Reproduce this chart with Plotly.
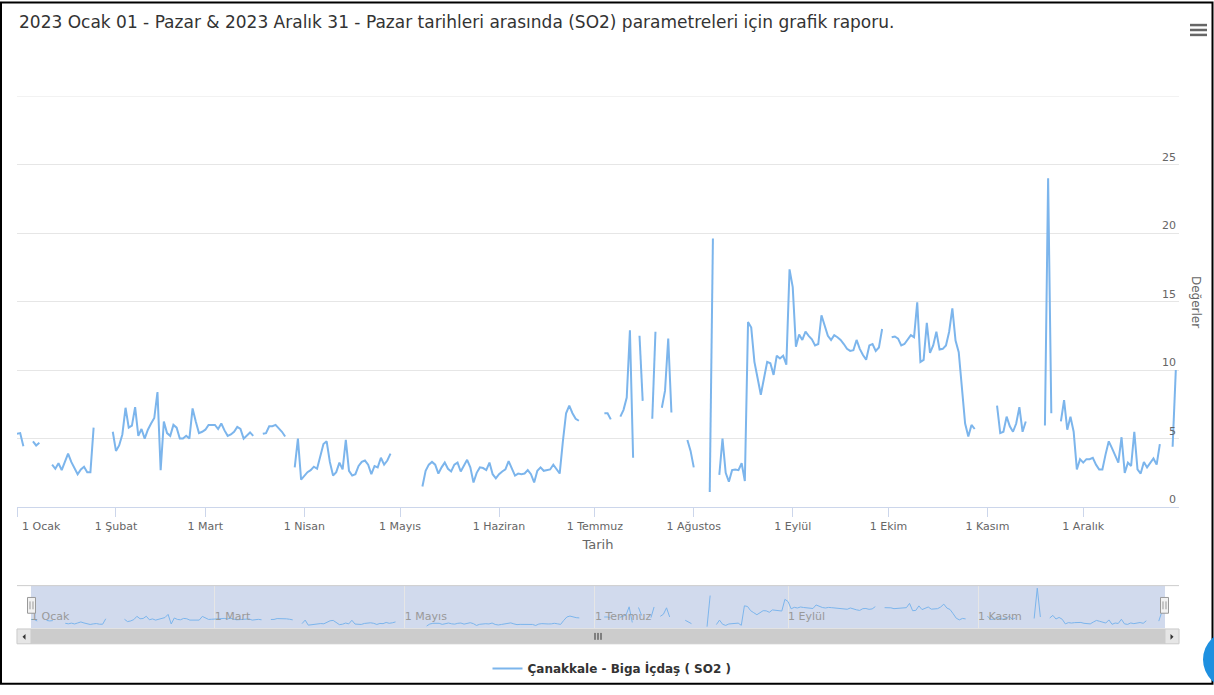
import pandas as pd
import plotly.graph_objects as go

# ---------------- data (daily SO2 values, None = missing) ----------------
series_name = "Çanakkale - Biga İçdaş ( SO2 )"
title_text = "2023 Ocak 01 - Pazar & 2023 Aralık 31 - Pazar tarihleri arasında (SO2) parametreleri için grafik raporu."

jan = [5.35, 5.4, 4.45, None, None, 4.8, 4.5, 4.7, None, None, None, 3.1, 2.8, 3.2, 2.7, 3.3,
       3.9, 3.3, 2.8, 2.4, 2.75, 2.95, 2.55, 2.55, 5.8, None, None, None, None, None, 5.5]
feb = [4.1, 4.5, 5.3, 7.25, 5.8, 5.95, 7.3, 5.2, 5.7, 5.0, 5.65, 6.1, 6.5, 8.4, 2.7, 6.25,
       5.4, 5.2, 6.0, 5.8, 5.0, 5.0, 5.2, 5.0, 7.2, 6.25, 5.4, 5.5]
mar = [5.65, 6.0, 6.0, 6.0, 5.7, 6.1, 5.6, 5.2, 5.3, 5.5, 5.85, 5.7, 5.0, 5.25, 5.45, 5.2,
       None, None, 5.35, 5.4, 5.9, 5.9, 6.0, 5.75, 5.5, 5.15, None, None, 2.9, 5.0, 2.0]
apr = [2.3, 2.55, 2.7, 2.95, 2.8, 3.8, 4.6, 4.8, 3.3, 2.3, 2.55, 3.25, 2.75, 4.9, 2.65,
       2.3, 2.4, 3.0, 3.3, 3.4, 3.1, 2.4, 3.0, 2.9, 3.6, 3.1, 3.4, 3.9, None, None]
may = [None, None, None, None, None, None, None, 1.5, 2.65, 3.1, 3.3, 3.1, 2.45, 2.9, 3.25,
       2.8, 2.6, 3.1, 3.25, 2.6, 3.0, 3.45, 2.9, 1.8, 2.5, 2.9, 2.85, 2.7, 3.25, 2.4, 2.1]
jun = [2.4, 2.6, 2.75, 3.35, 2.75, 2.3, 2.45, 2.4, 2.45, 2.7, 2.4, 1.8, 2.65, 2.9, 2.65,
       2.7, 2.75, 3.1, 2.8, 2.45, 4.8, 6.85, 7.4, 6.85, 6.45, 6.3, None, None, None, None]
jul = [None, None, None, 6.85, 6.85, 6.4, None, None, 6.6, 7.1, 8.0, 12.9, 3.6, None, 12.5,
       7.75, None, None, 6.45, 12.8, None, 7.25, 8.5, 12.3, 6.9, None, None, None, None, 4.9, 4.1]
aug = [2.9, None, None, None, None, 1.1, 19.6, None, 2.35, 5.0, 2.5, 1.85, 2.7, 2.75, 2.7,
       3.2, 1.9, 13.5, 13.1, 10.6, 9.4, 8.2, 9.4, 10.6, 10.5, 9.65, 11.05, 10.85, 11.05, 10.4, 17.35]
sep = [16.05, 11.7, 12.6, 12.2, 12.8, 12.5, 12.25, 11.8, 11.9, 14.0, 13.2, 12.5, 12.2, 12.55,
       12.4, 12.2, 11.9, 11.55, 11.4, 11.45, 12.2, 11.55, 11.1, 10.75, 11.8, 11.9, 11.4, 11.65, 13.0, None]
oct_ = [None, 12.4, 12.45, 12.3, 11.8, 11.9, 12.25, 12.55, 12.4, 14.95, 10.6, 10.75, 13.45,
        11.25, 11.8, 12.8, 11.5, 11.55, 11.8, 12.8, 14.5, 12.15, 11.3, 8.8, 6.1, 5.15, 6.0, 5.7,
        None, None, None]
nov = [None, None, None, 7.4, 5.4, 5.5, 6.6, 5.9, 5.5, 6.1, 7.3, 5.5, 6.25, None, None, None,
       None, None, 5.95, 24.0, 6.85, None, None, 6.25, 7.8, 5.65, 6.6, 5.5, 2.75, 3.5]
dec = [3.25, 3.5, 3.5, 3.6, 3.1, 2.75, 2.75, 3.85, 4.8, 4.3, 3.75, 3.25, 5.1, 2.5, 3.25, 3.0,
       5.5, 2.75, 2.45, 3.3, 2.9, 3.25, 3.55, 3.1, 4.6, None, None, None, 4.4, 10.0, None]

month_labels = ["1 Ocak", "1 Şubat", "1 Mart", "1 Nisan", "1 Mayıs", "1 Haziran",
                "1 Temmuz", "1 Ağustos", "1 Eylül", "1 Ekim", "1 Kasım", "1 Aralık"]
y_ticks = [0, 5, 10, 15, 20, 25, 30]

values = jan + feb + mar + apr + may + jun + jul + aug + sep + oct_ + nov + dec
dates = pd.date_range("2023-01-01", "2023-12-31", freq="D")
month_starts = pd.date_range("2023-01-01", "2023-12-01", freq="MS")

# ---------------- geometry helpers ----------------
W, H = 1214, 695
L, R, T, B = 17, 35, 96, 59
PW, PH = W - L - R, H - T - B


def px(x):
    return (x - L) / PW


def py(y):
    return (H - B - y) / PH


FONT = "DejaVu Sans"
BLUE = "#7cb5ec"

fig = go.Figure()
fig.add_trace(go.Scatter(x=dates, y=values, mode="lines", name=series_name,
                         line=dict(color=BLUE, width=2), xaxis="x", yaxis="y"))
fig.add_trace(go.Scatter(x=dates, y=values, mode="lines", showlegend=False,
                         line=dict(color=BLUE, width=1), xaxis="x2", yaxis="y2",
                         hoverinfo="skip"))

shapes = []
# top grid line (value 30)
shapes.append(dict(type="line", xref="x domain", yref="y", x0=0, x1=1, y0=30, y1=30,
                   line=dict(color="#e6e6e6", width=1), layer="below"))
# navigator mask
shapes.append(dict(type="rect", xref="x2 domain", yref="y2 domain", x0=0, x1=1, y0=0, y1=1,
                   fillcolor="rgba(102,133,194,0.3)", line=dict(width=0), layer="below"))
# navigator outline
shapes.append(dict(type="line", xref="paper", yref="paper", x0=px(17), x1=px(1179),
                   y0=py(593), y1=py(593), line=dict(color="#cccccc", width=1)))
# handles
for hx in (31.5, 1164.5):
    shapes.append(dict(type="rect", xref="paper", yref="paper", x0=px(hx - 4), x1=px(hx + 4),
                       y0=py(621), y1=py(605), fillcolor="#f2f2f2",
                       line=dict(color="#999999", width=1)))
    for lx in (hx - 1.5, hx + 1.5):
        shapes.append(dict(type="line", xref="paper", yref="paper", x0=px(lx), x1=px(lx),
                           y0=py(617), y1=py(609), line=dict(color="#999999", width=1)))
# scrollbar
shapes.append(dict(type="rect", xref="paper", yref="paper", x0=px(17), x1=px(1179),
                   y0=py(652), y1=py(637), fillcolor="#f2f2f2", line=dict(color="#f2f2f2", width=1)))
shapes.append(dict(type="rect", xref="paper", yref="paper", x0=px(31), x1=px(1165),
                   y0=py(652), y1=py(637), fillcolor="#cccccc", line=dict(color="#cccccc", width=1)))
for bx0, bx1 in ((17, 31), (1165, 1179)):
    shapes.append(dict(type="rect", xref="paper", yref="paper", x0=px(bx0), x1=px(bx1),
                       y0=py(652), y1=py(637), fillcolor="#e6e6e6", line=dict(color="#cccccc", width=1)))
shapes.append(dict(type="path", xref="paper", yref="paper",
                   path=f"M {px(25.5)} {py(642)} L {px(25.5)} {py(648)} L {px(22.5)} {py(645)} Z",
                   fillcolor="#333333", line=dict(width=0)))
shapes.append(dict(type="path", xref="paper", yref="paper",
                   path=f"M {px(1170.5)} {py(642)} L {px(1170.5)} {py(648)} L {px(1173.5)} {py(645)} Z",
                   fillcolor="#333333", line=dict(width=0)))
for rx in (595, 598, 601):
    shapes.append(dict(type="line", xref="paper", yref="paper", x0=px(rx), x1=px(rx),
                       y0=py(648), y1=py(641), line=dict(color="#333333", width=1)))
# outer frame
shapes.append(dict(type="rect", xref="paper", yref="paper", x0=px(1), x1=px(1212.5),
                   y0=py(692.5), y1=py(1), line=dict(color="#000000", width=2)))
# export menu icon
for hy in (24, 29, 34):
    shapes.append(dict(type="line", xref="paper", yref="paper", x0=px(1190), x1=px(1207),
                       y0=py(hy), y1=py(hy), line=dict(color="#666666", width=2.5)))
# floating button, partially visible
shapes.append(dict(type="circle", xref="paper", yref="paper", x0=px(1203), x1=px(1263),
                   y0=py(698), y1=py(638), fillcolor="#1e90e0", line=dict(width=0)))

annotations = [
    dict(text=month_labels[0], xref="paper", yref="paper", x=px(20), y=py(532.5),
         xanchor="left", yanchor="middle", showarrow=False,
         font=dict(family=FONT, size=11, color="#666666")),
    dict(text="Değerler", xref="paper", yref="paper", x=px(1196), y=py(305),
         xanchor="center", yanchor="middle", textangle=90, showarrow=False,
         font=dict(family=FONT, size=12, color="#666666")),
]

nav_idx = [0, 2, 4, 6, 8, 10]

fig.update_layout(
    width=W, height=H,
    margin=dict(l=L, r=R, t=T, b=B),
    paper_bgcolor="white", plot_bgcolor="white",
    title=dict(text=title_text, xref="container", yref="container", x=19 / W, y=1 - 22 / H,
               xanchor="left", yanchor="middle",
               font=dict(family=FONT, size=17, color="#333333")),
    xaxis=dict(domain=[0, 1], anchor="y", range=[dates[0], dates[-1]],
               tickvals=list(month_starts), ticktext=[""] + month_labels[1:],
               ticks="outside", ticklen=9, tickcolor="#ccd6eb", showline=True,
               linecolor="#ccd6eb", showgrid=False, zeroline=False,
               tickfont=dict(family=FONT, size=11, color="#666666"),
               title=dict(text="Tarih", font=dict(family=FONT, size=13, color="#666666"), standoff=7)),
    yaxis=dict(domain=[py(513.3), 1], anchor="x", range=[0, 30], side="right",
               tickvals=y_ticks, ticktext=[str(v) for v in y_ticks[:-1]] + [""],
               ticklabelposition="inside top", gridcolor="#e6e6e6", showline=False,
               zeroline=False, ticks="",
               tickfont=dict(family=FONT, size=11, color="#666666")),
    xaxis2=dict(domain=[px(31), px(1165)], anchor="y2", range=[dates[0], dates[-1]],
                tickvals=[month_starts[i] for i in nav_idx],
                ticktext=[month_labels[i] for i in nav_idx],
                ticklabelposition="inside right", ticks="", showgrid=True,
                gridcolor="#e6e6e6", showline=False, zeroline=False,
                tickfont=dict(family=FONT, size=11, color="#999999")),
    yaxis2=dict(domain=[0, py(593)], anchor="x2", range=[0.3, 25.5], visible=False),
    legend=dict(orientation="h", x=px(612), xanchor="center", y=py(677), yanchor="middle",
                font=dict(family=FONT, size=12, color="#333333", weight="bold"),
                bgcolor="rgba(0,0,0,0)"),
    showlegend=True,
    shapes=shapes,
    annotations=annotations,
)

fig.write_html("out.html", config={"displayModeBar": False},
               post_script="document.body.style.margin='0';document.body.style.overflow='hidden';")
